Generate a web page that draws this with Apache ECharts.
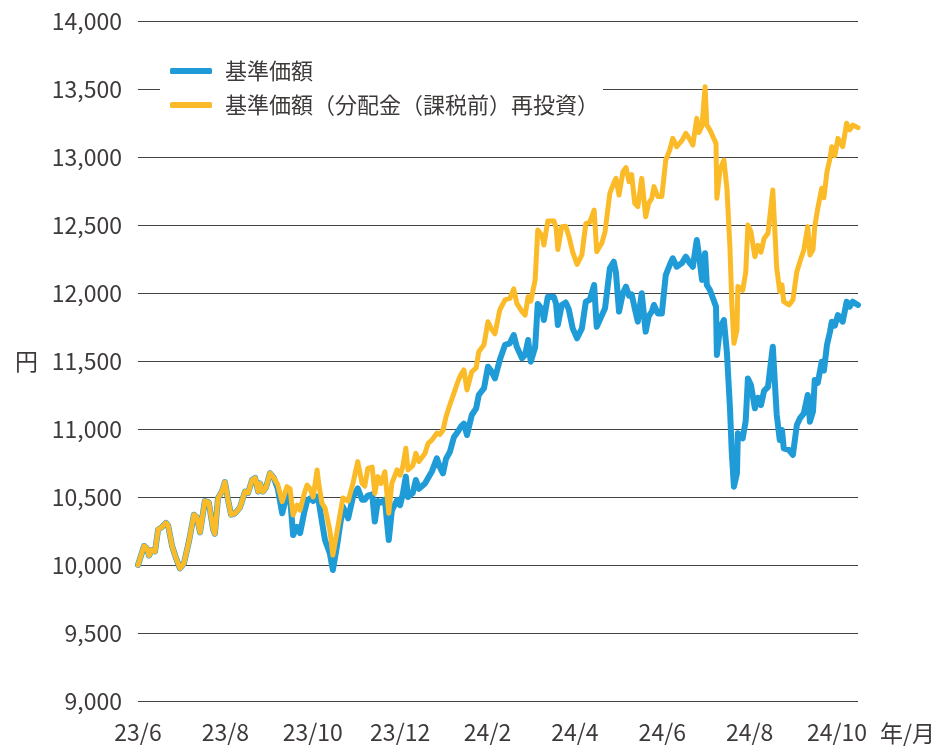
<!DOCTYPE html>
<html>
<head>
<meta charset="utf-8">
<script src="https://cdn.jsdelivr.net/npm/echarts@6/dist/echarts.min.js"></script>
<style>
  html, body { margin: 0; padding: 0; background: #fff; }
  #main { width: 932px; height: 748px; }
</style>
</head>
<body>
<div id="main"></div>
<script>
// 月（23/6 起点からの経過月数）
var months = [
  0.00, 0.07, 0.14, 0.21, 0.25, 0.32, 0.39, 0.46, 0.55, 0.64,
  0.69, 0.78, 0.87, 0.96, 1.05, 1.17, 1.28, 1.35, 1.42, 1.53,
  1.62, 1.72, 1.76, 1.83, 1.92, 1.99, 2.06, 2.13, 2.22, 2.33,
  2.45, 2.52, 2.61, 2.68, 2.75, 2.79, 2.86, 2.93, 3.02, 3.11,
  3.20, 3.30, 3.41, 3.48, 3.55, 3.64, 3.71, 3.80, 3.87, 3.94,
  4.01, 4.10, 4.14, 4.21, 4.28, 4.39, 4.46, 4.55, 4.69, 4.81,
  4.92, 5.03, 5.13, 5.19, 5.26, 5.36, 5.42, 5.49, 5.56, 5.65,
  5.74, 5.81, 5.93, 6.00, 6.06, 6.13, 6.18, 6.29, 6.36, 6.43,
  6.57, 6.64, 6.73, 6.84, 6.91, 6.98, 7.05, 7.14, 7.23, 7.32,
  7.39, 7.46, 7.53, 7.64, 7.74, 7.80, 7.92, 8.01, 8.08, 8.17,
  8.28, 8.40, 8.51, 8.60, 8.67, 8.79, 8.86, 8.93, 8.99, 9.09,
  9.15, 9.25, 9.29, 9.38, 9.52, 9.57, 9.61, 9.70, 9.79, 9.86,
  9.95, 10.05, 10.16, 10.25, 10.34, 10.44, 10.50, 10.62, 10.69, 10.80,
  10.89, 10.94, 11.01, 11.10, 11.17, 11.24, 11.30, 11.37, 11.44, 11.53,
  11.62, 11.69, 11.76, 11.81, 11.90, 11.99, 12.08, 12.17, 12.24, 12.33,
  12.45, 12.54, 12.63, 12.70, 12.79, 12.84, 12.91, 12.98, 13.02, 13.09,
  13.16, 13.23, 13.25, 13.32, 13.41, 13.48, 13.55, 13.59, 13.64, 13.71,
  13.73, 13.84, 13.91, 13.96, 14.03, 14.12, 14.19, 14.26, 14.33, 14.42,
  14.53, 14.62, 14.69, 14.74, 14.78, 14.90, 14.99, 15.08, 15.15, 15.24,
  15.33, 15.38, 15.45, 15.49, 15.56, 15.65, 15.70, 15.77, 15.84, 15.88,
  15.95, 16.02, 16.13, 16.22, 16.29, 16.36, 16.48
];

// 基準価額（分配金（課税前）再投資）
var navReinvest = [
  10000, 10070, 10140, 10120, 10070, 10110, 10100, 10260, 10280, 10310,
  10290, 10140, 10050, 9975, 10010, 10180, 10370, 10350, 10240, 10470,
  10460, 10260, 10230, 10490, 10540, 10610, 10480, 10370, 10380, 10420,
  10540, 10530, 10625, 10640, 10540, 10600, 10540, 10570, 10675, 10640,
  10590, 10466, 10576, 10560, 10368, 10440, 10404, 10520, 10588, 10560,
  10500, 10699, 10590, 10456, 10420, 10257, 10073, 10235, 10493, 10470,
  10600, 10760, 10600, 10580, 10711, 10720, 10527, 10650, 10600, 10686,
  10380, 10600, 10699, 10660, 10723, 10858, 10699, 10730, 10821, 10760,
  10821, 10895, 10920, 10970, 10960, 10990, 11090, 11180, 11262, 11348,
  11400, 11434, 11287, 11421, 11450, 11568, 11620, 11789, 11740, 11700,
  11875, 11950, 11960, 12030, 11924, 11863, 11838, 11973, 11940, 12095,
  12463, 12420, 12353, 12530, 12530, 12480, 12320, 12487, 12490, 12420,
  12300, 12210, 12280, 12510, 12520, 12610, 12304, 12370, 12451, 12733,
  12810, 12843, 12720, 12892, 12922, 12818, 12870, 12660, 12635, 12843,
  12561, 12660, 12696, 12782, 12709, 12709, 12978, 13051, 13137, 13076,
  13120, 13174, 13130, 13088, 13284, 13180, 13230, 13517, 13235, 13200,
  13149, 13100, 12696, 12904, 12978, 12770, 12328, 11936, 11630, 11728,
  12047, 12020, 12150, 12500, 12450, 12267, 12350, 12300, 12400, 12439,
  12757, 12181, 12010, 12060, 11936, 11912, 11950, 12157, 12230, 12316,
  12488, 12280, 12320, 12490, 12623, 12770, 12700, 12892, 12991, 13076,
  13010, 13137, 13076, 13248, 13200, 13235, 13216
];

// 基準価額
var nav = [
  10000, 10070, 10140, 10120, 10070, 10110, 10100, 10260, 10280, 10310,
  10290, 10140, 10050, 9975, 10010, 10180, 10370, 10350, 10240, 10470,
  10460, 10260, 10230, 10490, 10540, 10610, 10480, 10370, 10380, 10420,
  10540, 10530, 10625, 10640, 10540, 10600, 10540, 10570, 10675, 10640,
  10560, 10380, 10520, 10500, 10220, 10280, 10235, 10380, 10470, 10490,
  10470, 10502, 10460, 10320, 10184, 10086, 9963, 10130, 10429, 10343,
  10500, 10563, 10480, 10480, 10510, 10520, 10320, 10470, 10460, 10480,
  10184, 10400, 10478, 10440, 10520, 10650, 10500, 10530, 10625, 10560,
  10600, 10640, 10690, 10785, 10720, 10674, 10780, 10833, 10940, 10980,
  11017, 11040, 10956, 11103, 11152, 11250, 11300, 11458, 11430, 11372,
  11507, 11618, 11630, 11691, 11605, 11520, 11544, 11654, 11495, 11600,
  11920, 11880, 11801, 11973, 11970, 11920, 11765, 11912, 11930, 11880,
  11740, 11667, 11740, 11936, 11950, 12059, 11752, 11838, 11887, 12181,
  12230, 12150, 11863, 12000, 12047, 11980, 11990, 11887, 11789, 11998,
  11716, 11830, 11863, 11912, 11850, 11850, 12132, 12206, 12255, 12193,
  12220, 12267, 12220, 12193, 12390, 12280, 12096, 12292, 12059, 12022,
  11961, 11900, 11544, 11740, 11801, 11560, 11152, 10833, 10576, 10674,
  10968, 10931, 11060, 11372, 11324, 11152, 11230, 11176, 11280, 11310,
  11605, 11103, 10919, 10993, 10858, 10846, 10809, 11029, 11078, 11115,
  11250, 11054, 11130, 11360, 11340, 11495, 11430, 11618, 11716, 11789,
  11760, 11838, 11789, 11936, 11900, 11936, 11912
];

var seriesNames = ['基準価額', '基準価額（分配金（課税前）再投資）'];
var seriesColors = ['#1f9bd7', '#fbba27'];

function toPairs(xs, ys){
	var out = [];
	for (var i = 0; i < xs.length; i++) {
		out.push([xs[i], ys[i]]);
	}
	return out;
}

function monthLabel(v){
	var m = 6 + Math.round(v);
	var y = 23 + Math.floor((m - 1) / 12);
	m = (m - 1) % 12 + 1;
	return y + '/' + m;
}

var FONT = '"Noto Sans CJK JP", "Noto Sans", sans-serif';
var TEXT_COLOR = '#3e3a39';

function createOption(){
	var option = {
		animation: false,
		textStyle: { fontFamily: FONT },
		grid: {
			left: 138,
			right: 74,
			top: 21,
			bottom: 47,
			outerBoundsMode: 'none',
			containLabel: false
		},
		legend: {
			orient: 'vertical',
			left: 160,
			top: 55,
			padding: [4, 4, 4, 10],
			backgroundColor: '#fff',
			itemWidth: 42,
			itemHeight: 6,
			itemGap: 10,
			icon: 'roundRect',
			textStyle: {
				fontFamily: FONT,
				fontSize: 22,
				lineHeight: 24,
				color: TEXT_COLOR,
				padding: [0, 0, 0, 8]
			},
			data: seriesNames
		},
		xAxis: {
			type: 'value',
			min: 0,
			max: 16.48,
			interval: 2,
			name: '年/月',
			nameLocation: 'end',
			nameGap: 22,
			nameTextStyle: {
				fontFamily: FONT,
				fontSize: 23,
				color: TEXT_COLOR,
				verticalAlign: 'top',
				padding: [21, 0, 0, 0]
			},
			axisLine: { show: false },
			axisTick: { show: false },
			splitLine: { show: false },
			axisLabel: {
				margin: 20,
				fontFamily: FONT,
				fontSize: 23,
				color: TEXT_COLOR,
				showMaxLabel: false,
				formatter: monthLabel
			}
		},
		yAxis: {
			type: 'value',
			min: 9000,
			max: 14000,
			interval: 500,
			name: '円',
			nameLocation: 'middle',
			nameRotate: 0,
			nameGap: 100,
			nameTextStyle: {
				fontFamily: FONT,
				fontSize: 23,
				color: TEXT_COLOR
			},
			axisLine: { show: false },
			axisTick: { show: false },
			splitLine: {
				show: true,
				lineStyle: { color: '#444', width: 1 }
			},
			axisLabel: {
				margin: 16,
				fontFamily: FONT,
				fontSize: 23,
				color: TEXT_COLOR,
				formatter: function (v){ return v.toLocaleString('en-US'); }
			}
		},
		series: [
			{
				name: seriesNames[0],
				type: 'line',
				showSymbol: false,
				symbol: 'none',
				color: seriesColors[0],
				lineStyle: { width: 6, color: seriesColors[0], join: 'round', cap: 'round' },
				data: toPairs(months, nav)
			},
			{
				name: seriesNames[1],
				type: 'line',
				showSymbol: false,
				symbol: 'none',
				color: seriesColors[1],
				lineStyle: { width: 5, color: seriesColors[1], join: 'round', cap: 'round' },
				data: toPairs(months, navReinvest)
			}
		]
	};
	return option;
}

var myChart = echarts.init(document.getElementById('main'), null, { renderer: 'canvas' });
myChart.setOption(createOption());
</script>
</body>
</html>
